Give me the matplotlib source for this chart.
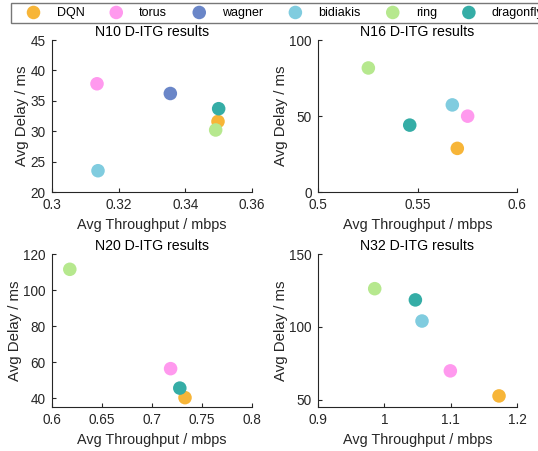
import numpy as np
import matplotlib
matplotlib.use("Agg")
import matplotlib.pyplot as plt
from matplotlib.ticker import FuncFormatter

plt.rcParams['font.family'] = ['Liberation Sans', 'DejaVu Sans']
plt.rcParams['font.size'] = 10

methods = ["DQN", "torus", "wagner", "bidiakis", "ring", "dragonfly"]
colors = ["#F7B538", "#FF99EE", "#6A86C8", "#80CCDF", "#B6E88E", "#35ADA6"]

nan = np.nan
# throughput (mbps), delay (ms) per topology, order as in methods
n10_tp = [0.3498, 0.3135, 0.3355, 0.3138, 0.3491, 0.3500]
n10_dl = [31.6, 37.8, 36.2, 23.5, 30.2, 33.7]
n16_tp = [0.5700, 0.5752, nan, 0.5675, 0.5253, 0.5461]
n16_dl = [28.7, 49.9, nan, 57.3, 81.6, 44.0]
n20_tp = [0.7330, 0.7186, nan, nan, 0.6178, 0.7278]
n20_dl = [40.2, 56.3, nan, nan, 111.5, 45.5]
n32_tp = [1.1729, 1.0995, nan, 1.0568, 0.9855, 1.0468]
n32_dl = [52.6, 69.8, nan, 104.0, 126.2, 118.5]

titles = ["N10 D-ITG results", "N16 D-ITG results", "N20 D-ITG results", "N32 D-ITG results"]
xlims = [(0.3, 0.36), (0.5, 0.6), (0.6, 0.8), (0.9, 1.2)]
ylims = [(20, 45), (0, 100), (35, 120), (45, 150)]
xticks = [[0.3, 0.32, 0.34, 0.36], [0.5, 0.55, 0.6], [0.6, 0.65, 0.7, 0.75, 0.8], [0.9, 1.0, 1.1, 1.2]]
yticks = [[20, 25, 30, 35, 40, 45], [0, 50, 100], [40, 60, 80, 100, 120], [50, 100, 150]]
data = [(n10_tp, n10_dl), (n16_tp, n16_dl), (n20_tp, n20_dl), (n32_tp, n32_dl)]

W, H = 538, 451
fig = plt.figure(figsize=(W / 100, H / 100), dpi=100)
boxes = [(52, 40, 200, 152), (318, 40, 199, 152), (52, 254, 200, 153), (318, 254, 199, 153)]
fmt = FuncFormatter(lambda v, p: "%g" % round(v, 4))
tc = "#262626"
handles = []
for i, (bx, by, bw, bh) in enumerate(boxes):
    ax = fig.add_axes([bx / W, 1 - (by + bh) / H, bw / W, bh / H])
    tp, dl = data[i]
    for j, m in enumerate(methods):
        h = ax.scatter([tp[j]], [dl[j]], s=95, color=colors[j], edgecolors='none', label=m, zorder=3)
        if i == 0:
            handles.append(h)
    ax.set_xlim(*xlims[i])
    ax.set_ylim(*ylims[i])
    ax.set_xticks(xticks[i])
    ax.set_yticks(yticks[i])
    ax.xaxis.set_major_formatter(fmt)
    ax.yaxis.set_major_formatter(fmt)
    for s in ["top", "right"]:
        ax.spines[s].set_visible(False)
    for s in ["left", "bottom"]:
        ax.spines[s].set_color(tc)
        ax.spines[s].set_linewidth(0.8)
    ax.tick_params(direction='in', length=3, width=0.8, colors=tc, labelsize=9.8, pad=4.5)
    ax.set_xlabel("Avg Throughput / mbps", fontsize=10.4, color=tc, labelpad=4)
    ax.set_ylabel("Avg Delay / ms", fontsize=10.8, color=tc, labelpad=1)
    ax.set_title(titles[i], fontsize=10.2, color="black", pad=3)

leg = fig.legend(handles=handles, labels=methods, loc='upper left',
                 bbox_to_anchor=(11 / W, 1 - 3 / H), ncol=6, frameon=True,
                 fancybox=False, edgecolor="#555555", fontsize=9,
                 borderpad=0.3, handletextpad=0.34, columnspacing=1.06,
                 handlelength=3.0, borderaxespad=0)
leg.get_frame().set_linewidth(1.0)

fig.savefig("out.png", dpi=100)
